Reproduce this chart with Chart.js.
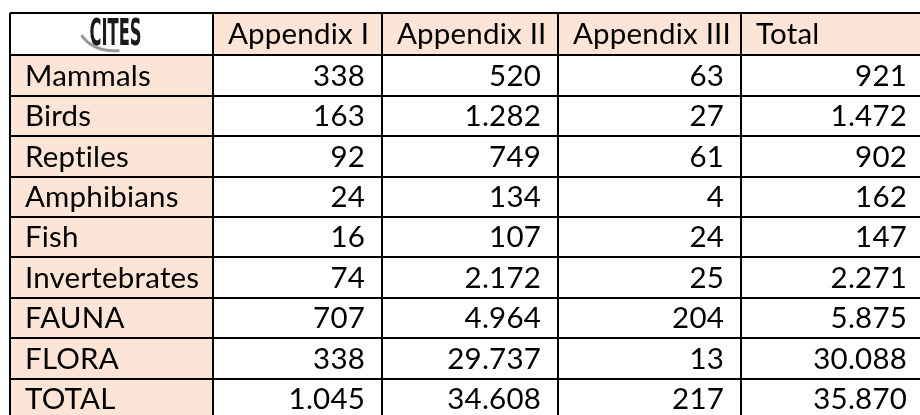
<!DOCTYPE html>
<html>
<head>
<meta charset="utf-8">
<script src="https://cdn.jsdelivr.net/npm/chart.js@4.4.1/dist/chart.umd.min.js"></script>
<style>
  html, body { margin: 0; padding: 0; background: #fff; overflow: hidden; }
</style>
</head>
<body>
<canvas id="table" width="920" height="415"></canvas>
<script>
// table content
const columns = ['Appendix I', 'Appendix II', 'Appendix III', 'Total'];
const groups = ['Mammals', 'Birds', 'Reptiles', 'Amphibians', 'Fish', 'Invertebrates', 'FAUNA', 'FLORA', 'TOTAL'];
const appendixI = [338, 163, 92, 24, 16, 74, 707, 338, 1045];
const appendixII = [520, 1282, 749, 134, 107, 2172, 4964, 29737, 34608];
const appendixIII = [63, 27, 61, 4, 24, 25, 204, 13, 217];
const total = [921, 1472, 902, 162, 147, 2271, 5875, 30088, 35870];
const logoText = 'CITES';

// layout (scale units)
const colWidths = [203, 169, 176, 183, 183];
const headerHeight = 1.05;

const series = [appendixI, appendixII, appendixIII, total];
const colEdges = [0];
colWidths.forEach(w => colEdges.push(colEdges[colEdges.length - 1] + w));
const rowEdges = [0];
groups.forEach((g, i) => rowEdges.push(headerHeight + i));

const peach = '#fce4d6';
const font = '29.5px Lato, "Open Sans", sans-serif';

function fmt(n) {
  return String(n).replace(/\B(?=(\d{3})+(?!\d))/g, '.');
}

const datasets = series.map((vals, c) => ({
  label: columns[c],
  data: vals.map((v, r) => ({
    x: (colEdges[c + 1] + colEdges[c + 2]) / 2,
    y: rowEdges[r + 1] + 0.5,
    v: v
  })),
  pointRadius: 0,
  showLine: false
}));

const tablePlugin = {
  id: 'tablePlugin',
  beforeDraw(chart) {
    const { ctx, scales: { x, y } } = chart;
    ctx.save();
    ctx.fillStyle = '#fff';
    ctx.fillRect(0, 0, chart.width, chart.height);
    ctx.fillStyle = peach;
    // header row
    ctx.fillRect(x.getPixelForValue(colEdges[1]), y.getPixelForValue(rowEdges[0]),
      x.getPixelForValue(colEdges[5]) - x.getPixelForValue(colEdges[1]),
      y.getPixelForValue(rowEdges[1]) - y.getPixelForValue(rowEdges[0]));
    // label column
    ctx.fillRect(x.getPixelForValue(colEdges[0]), y.getPixelForValue(rowEdges[1]),
      x.getPixelForValue(colEdges[1]) - x.getPixelForValue(colEdges[0]),
      chart.height - y.getPixelForValue(rowEdges[1]));
    ctx.restore();
  },
  afterDraw(chart) {
    const { ctx, scales: { x, y } } = chart;
    const rowPx = y.getPixelForValue(1) - y.getPixelForValue(0);
    ctx.save();
    ctx.font = font;
    ctx.letterSpacing = '0.2px'; // keeps Lato from joining "ti"
    ctx.fillStyle = '#000';
    ctx.textBaseline = 'alphabetic';

    const headBase = y.getPixelForValue(rowEdges[1]) - 11;
    ctx.textAlign = 'left';
    columns.forEach((c, i) => {
      ctx.fillText(c, x.getPixelForValue(colEdges[i + 1]) + 15, headBase);
    });

    groups.forEach((g, r) => {
      const base = y.getPixelForValue(rowEdges[r + 1]) + rowPx - 10;
      ctx.textAlign = 'left';
      ctx.fillText(g, x.getPixelForValue(colEdges[0]) + 15, base);
    });

    chart.data.datasets.forEach((ds, c) => {
      const meta = chart.getDatasetMeta(c);
      ctx.textAlign = 'right';
      meta.data.forEach((pt, r) => {
        const base = pt.y + rowPx / 2 - 10;
        ctx.fillText(fmt(ds.data[r].v), x.getPixelForValue(colEdges[c + 2]) - 17, base);
      });
    });

    // logo in the corner cell
    const cx = (x.getPixelForValue(colEdges[0]) + x.getPixelForValue(colEdges[1])) / 2 + 4;
    ctx.strokeStyle = '#9a9a9a';
    ctx.lineWidth = 3;
    ctx.beginPath();
    ctx.moveTo(cx - 34, y.getPixelForValue(0.55));
    ctx.quadraticCurveTo(cx - 22, y.getPixelForValue(0.98), cx + 4, y.getPixelForValue(0.93));
    ctx.stroke();
    ctx.letterSpacing = '0px';
    ctx.font = 'bold 38px "DejaVu Sans Condensed", "Liberation Sans Narrow", sans-serif';
    const w = ctx.measureText(logoText).width;
    ctx.translate(cx, y.getPixelForValue(0.8));
    ctx.scale(52 / w, 1);
    ctx.textAlign = 'center';
    ctx.fillStyle = '#1a1a1a';
    ctx.fillText(logoText, 0, 0);
    ctx.restore();
  }
};

new Chart(document.getElementById('table'), {
  type: 'scatter',
  data: { datasets },
  options: {
    responsive: false,
    animation: false,
    layout: { padding: { left: 10, top: 13, right: 0, bottom: 0 } },
    plugins: { legend: { display: false }, tooltip: { enabled: false } },
    scales: {
      x: {
        type: 'linear', min: 0, max: 910,
        afterBuildTicks: s => { s.ticks = colEdges.slice(0, 5).map(v => ({ value: v })); },
        ticks: { display: false },
        grid: { color: '#000', lineWidth: 2, drawTicks: false },
        border: { display: false }
      },
      y: {
        type: 'linear', min: 0, max: 9.95, reverse: true,
        afterBuildTicks: s => { s.ticks = rowEdges.map(v => ({ value: v })); },
        ticks: { display: false },
        grid: { color: '#000', lineWidth: 2, drawTicks: false },
        border: { display: false }
      }
    }
  },
  plugins: [tablePlugin]
});
</script>
</body>
</html>
